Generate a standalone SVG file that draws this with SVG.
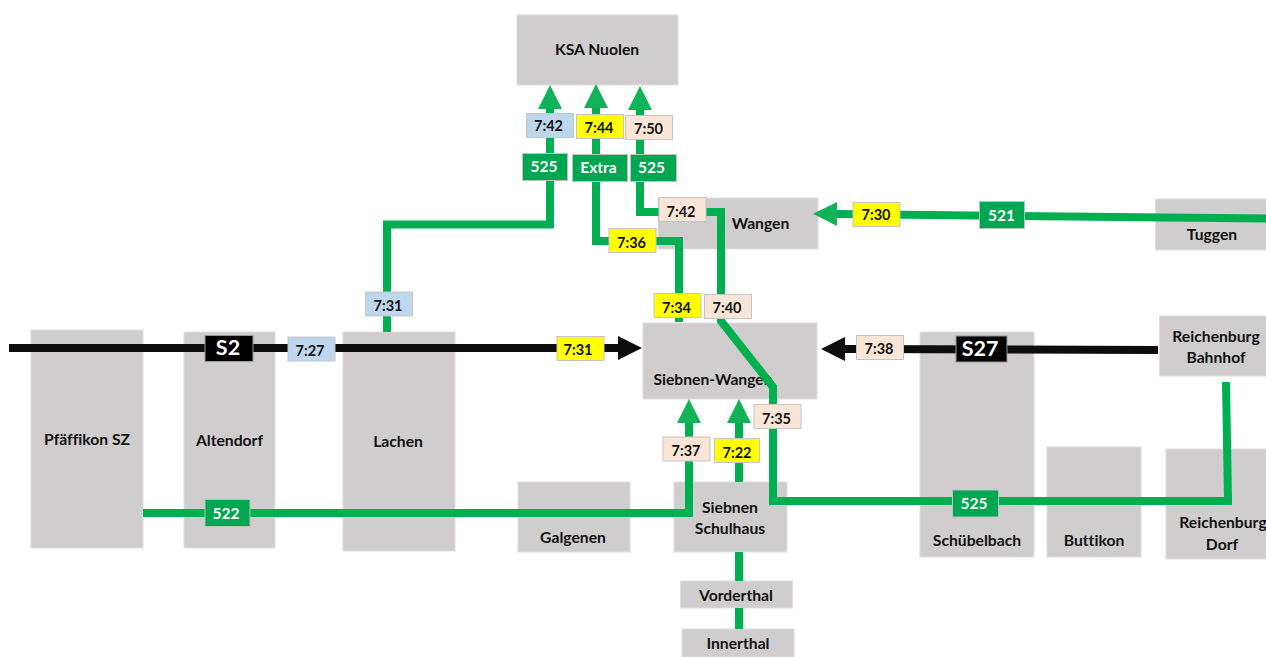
<svg xmlns="http://www.w3.org/2000/svg" width="1266" height="657" viewBox="0 0 1266 657">
<style>
text{font-family:"Lato","Carlito","Liberation Sans",sans-serif;font-weight:700;text-anchor:middle;font-variant-ligatures:none}
.n rect{fill:#CFCDCD;stroke:#DEDDDD;stroke-width:1}
.n text{font-size:15.700px;fill:#111}
.g{fill:none;stroke:#00B050;stroke-width:8;stroke-linejoin:miter}
.k{fill:none;stroke:#0D0D0D;stroke-width:8}
.t rect{stroke:#C4C4C4;stroke-width:1}
.t text{font-size:14.500px;fill:#111}
.b rect{fill:#BDD7EE}.y rect{fill:#FFFF00}.p rect{fill:#FBE5D6}
.r rect{fill:#00A650;stroke:#B8C4BC;stroke-width:1}
.r text{font-size:15.500px;fill:#fff}
.s rect{fill:#000;stroke:#999;stroke-width:1}
.s text{font-size:21.500px;fill:#fff}
</style>
<defs>
<marker id="ag" markerUnits="userSpaceOnUse" markerWidth="24" markerHeight="24" viewBox="0 0 24 24" refX="0" refY="12" orient="auto"><path d="M0 0L24 12L0 24Z" fill="#12B259"/></marker>
<marker id="ak" markerUnits="userSpaceOnUse" markerWidth="24" markerHeight="24" viewBox="0 0 24 24" refX="0" refY="12" orient="auto"><path d="M0 0L24 12L0 24Z" fill="#0D0D0D"/></marker>
</defs>
<g id="node-ksa" class="n"><rect x="517" y="15" width="161" height="70"/><text x="597" y="55">KSA Nuolen</text></g>
<g id="node-wangen" class="n"><rect x="658" y="198" width="160" height="51"/><text x="760.500" y="229">Wangen</text></g>
<g id="node-tuggen" class="n"><rect x="1155.500" y="199" width="112" height="51"/><text x="1212" y="240">Tuggen</text></g>
<g id="node-reichenburg-bahnhof" class="n"><rect x="1159.500" y="316" width="108" height="60"/><text x="1216" y="342">Reichenburg</text><text x="1216" y="363">Bahnhof</text></g>
<g id="node-siebnen-wangen" class="n"><rect x="643" y="323" width="174" height="76"/><text x="713" y="385">Siebnen-Wangen</text></g>
<g id="node-pfaeffikon" class="n"><rect x="31" y="330" width="112" height="218"/><text x="87" y="445">Pfäffikon SZ</text></g>
<g id="node-altendorf" class="n"><rect x="184" y="332" width="91" height="216"/><text x="229.500" y="446">Altendorf</text></g>
<g id="node-lachen" class="n"><rect x="343" y="332" width="112" height="219"/><text x="398" y="447">Lachen</text></g>
<g id="node-galgenen" class="n"><rect x="518" y="482" width="112" height="70"/><text x="573" y="543">Galgenen</text></g>
<g id="node-siebnen-schulhaus" class="n"><rect x="674" y="482" width="113" height="70"/><text x="730" y="513">Siebnen</text><text x="730" y="534">Schulhaus</text></g>
<g id="node-vorderthal" class="n"><rect x="680.500" y="581" width="112" height="27"/><text x="736" y="601">Vorderthal</text></g>
<g id="node-innerthal" class="n"><rect x="682" y="629" width="112" height="28"/><text x="738" y="649">Innerthal</text></g>
<g id="node-schuebelbach" class="n"><rect x="920" y="332" width="114" height="225"/><text x="977" y="546">Schübelbach</text></g>
<g id="node-buttikon" class="n"><rect x="1047" y="447" width="94" height="110"/><text x="1094" y="546">Buttikon</text></g>
<g id="node-reichenburg-dorf" class="n"><rect x="1166" y="449" width="101" height="110"/><text x="1223" y="528">Reichenburg</text><text x="1222" y="550">Dorf</text></g>
<g id="connectors">
<path class="k" d="M9 348H618" marker-end="url(#ak)"/>
<path class="k" d="M1158 350L845 349" marker-end="url(#ak)"/>
<path class="g" d="M387 332V224.500H550V109" marker-end="url(#ag)"/>
<path class="g" d="M679 322V241H596V108" marker-end="url(#ag)"/>
<path class="g" d="M1226 382L1228 501H773V387L721 321V212H640V110" marker-end="url(#ag)"/>
<path class="g" d="M143 513H689V423" marker-end="url(#ag)"/>
<path class="g" d="M739 482V423" marker-end="url(#ag)"/>
<path class="g" d="M739 552V581M739 608V629"/>
<path class="g" d="M1266 218.500L837 214" marker-end="url(#ag)"/>
</g>
<g id="labels">
<g id="t-742b" class="t b"><rect x="526.500" y="113.500" width="47" height="24"/><text x="548.500" y="131">7:42</text></g>
<g id="t-744" class="t y"><rect x="576.500" y="114.500" width="47" height="24"/><text x="599" y="133">7:44</text></g>
<g id="t-750" class="t p"><rect x="625.500" y="115.500" width="47" height="24"/><text x="648.500" y="134">7:50</text></g>
<g id="r-525a" class="r"><rect x="522.500" y="153.500" width="45" height="27"/><text x="544" y="172">525</text></g>
<g id="r-extra" class="r"><rect x="572.500" y="154.500" width="55" height="27"/><text x="598.500" y="173">Extra</text></g>
<g id="r-525b" class="r"><rect x="630.500" y="154.500" width="46" height="27"/><text x="651.500" y="173">525</text></g>
<g id="t-742p" class="t p"><rect x="659" y="197.500" width="47" height="24"/><text x="681" y="217">7:42</text></g>
<g id="t-736" class="t y"><rect x="609" y="228.500" width="47" height="24"/><text x="631.500" y="248">7:36</text></g>
<g id="t-730" class="t y"><rect x="853" y="202.500" width="47" height="24"/><text x="876" y="220">7:30</text></g>
<g id="t-734" class="t y"><rect x="654" y="293.500" width="47" height="24"/><text x="676.500" y="313">7:34</text></g>
<g id="t-740" class="t p"><rect x="704.500" y="294.500" width="47" height="24"/><text x="727" y="313">7:40</text></g>
<g id="t-731b" class="t b"><rect x="365.500" y="292" width="47" height="24"/><text x="388" y="311">7:31</text></g>
<g id="t-727" class="t b"><rect x="288" y="337" width="47" height="24"/><text x="310" y="356">7:27</text></g>
<g id="t-731y" class="t y"><rect x="557" y="336.500" width="47" height="24"/><text x="578" y="355">7:31</text></g>
<g id="t-738" class="t p"><rect x="856.500" y="335.500" width="47" height="24"/><text x="879" y="354">7:38</text></g>
<g id="t-735" class="t p"><rect x="754" y="404.500" width="47" height="24"/><text x="776.500" y="424">7:35</text></g>
<g id="t-737" class="t p"><rect x="663" y="437" width="47" height="24"/><text x="686" y="456">7:37</text></g>
<g id="t-722" class="t y"><rect x="714.500" y="438.500" width="45" height="24"/><text x="737" y="458">7:22</text></g>
<g id="s-s2" class="s"><rect x="205" y="335.500" width="48" height="26"/><text x="228" y="355">S2</text></g>
<g id="s-s27" class="s"><rect x="956" y="336" width="51" height="26"/><text x="980" y="356">S27</text></g>
<g id="r-522" class="r"><rect x="205" y="499.500" width="45" height="27"/><text x="226" y="519">522</text></g>
<g id="r-521" class="r"><rect x="979.500" y="201.500" width="45" height="27"/><text x="1001.500" y="221">521</text></g>
<g id="r-525c" class="r"><rect x="952.500" y="490" width="46" height="27"/><text x="974" y="509">525</text></g>
</g>
</svg>
